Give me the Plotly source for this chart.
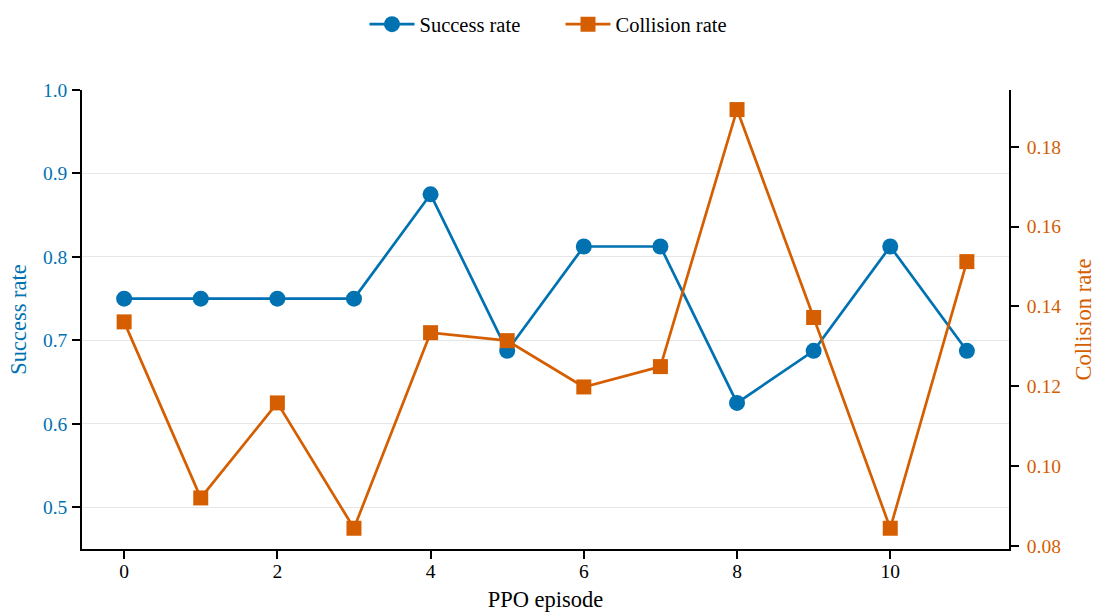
import plotly.graph_objects as go

episodes = list(range(12))
success_rate = [0.75, 0.75, 0.75, 0.75, 0.875, 0.6875, 0.8125, 0.8125, 0.625, 0.6875, 0.8125, 0.6875]
collision_rate = [0.1361, 0.0920, 0.1158, 0.0844, 0.1334, 0.1314, 0.1198, 0.1249, 0.1893, 0.1372, 0.0844, 0.1512]

BLUE = "#0072B2"
ORANGE = "#D55E00"
FONT = "Liberation Serif, Times New Roman, serif"

fig = go.Figure()
fig.add_trace(go.Scatter(
    x=episodes, y=success_rate, name="Success rate", mode="lines+markers",
    line=dict(color=BLUE, width=2.7),
    marker=dict(symbol="circle", size=16, color=BLUE),
    yaxis="y",
))
fig.add_trace(go.Scatter(
    x=episodes, y=collision_rate, name="Collision rate", mode="lines+markers",
    line=dict(color=ORANGE, width=2.7),
    marker=dict(symbol="square", size=15, color=ORANGE),
    yaxis="y2",
))

fig.update_layout(
    width=1096, height=612,
    margin=dict(l=82, r=87, t=90, b=63, autoexpand=False),
    paper_bgcolor="white", plot_bgcolor="white",
    font=dict(family=FONT, size=19.5, color="black"),
    showlegend=True,
    legend=dict(orientation="h", x=0.5 + 15 / 927, xanchor="center", y=1.143, yanchor="middle",
                font=dict(size=20.5), itemwidth=45, entrywidth=136, entrywidthmode="pixels",
                tracegroupgap=0),
    xaxis=dict(
        range=[-0.55, 11.55], tickmode="array", tickvals=[0, 2, 4, 6, 8, 10],
        showgrid=False, zeroline=False, showline=True, linecolor="black", linewidth=1.7,
        ticks="outside", ticklen=8, tickwidth=1.5, tickcolor="black",
        ticklabelstandoff=-4,
        title=dict(text="PPO episode", font=dict(size=22.5), standoff=12),
        tickfont=dict(size=19.5),
    ),
    yaxis=dict(
        range=[0.45, 1.0], tickmode="array", tickvals=[0.5, 0.6, 0.7, 0.8, 0.9, 1.0],
        tickformat=".1f",
        showgrid=True, gridcolor="#e6e6e6", gridwidth=1, zeroline=False,
        showline=True, linecolor="black", linewidth=1.7,
        ticks="outside", ticklen=8, tickwidth=1.5, tickcolor="black",
        ticklabelstandoff=1,
        tickfont=dict(size=19.5, color=BLUE),
        title=dict(text="Success rate", font=dict(size=22.5, color=BLUE), standoff=10),
    ),
    yaxis2=dict(
        overlaying="y", side="right",
        range=[0.0792, 0.1942], tickmode="array", tickvals=[0.08, 0.10, 0.12, 0.14, 0.16, 0.18],
        tickformat=".2f",
        showgrid=False, zeroline=False,
        showline=True, linecolor="black", linewidth=1.7,
        ticks="outside", ticklen=8, tickwidth=1.5, tickcolor="black",
        ticklabelstandoff=4,
        tickfont=dict(size=19.5, color=ORANGE),
        title=dict(text="Collision rate", font=dict(size=22.5, color=ORANGE), standoff=17),
    ),
)

fig.write_html("out.html")
